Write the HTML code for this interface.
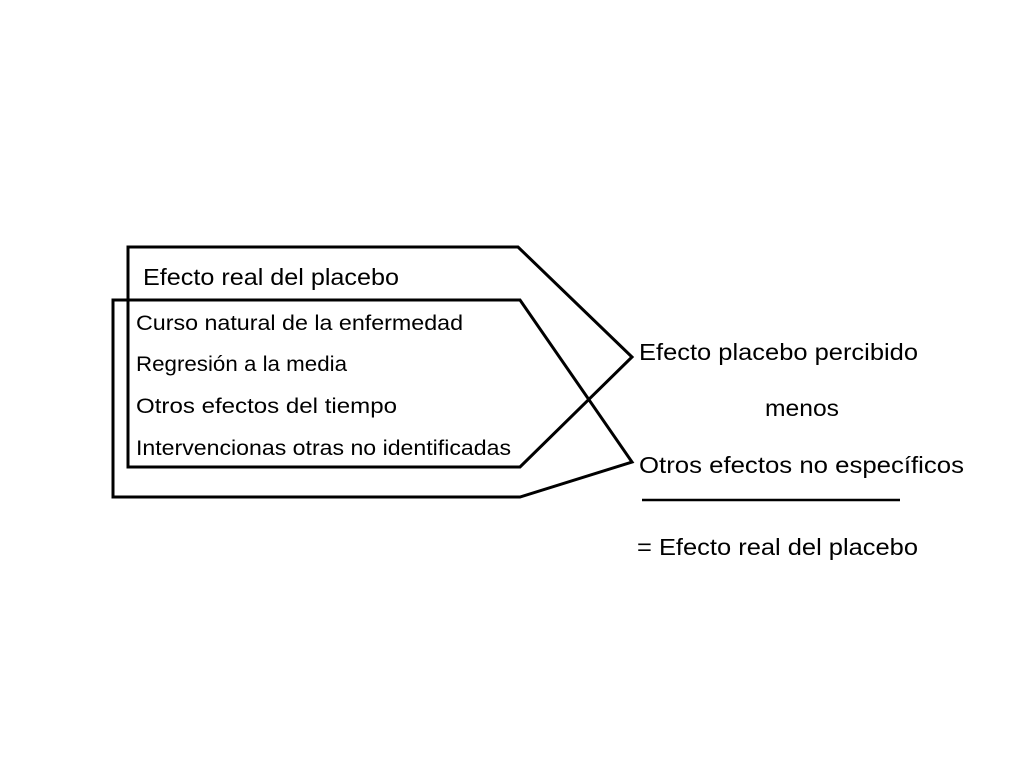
<!DOCTYPE html>
<html><head><meta charset="utf-8"><style>html,body{margin:0;padding:0;background:#fff}svg{display:block}</style></head>
<body>
<svg width="1024" height="768" viewBox="0 0 1024 768" xmlns="http://www.w3.org/2000/svg">
<g fill="none" stroke="#000" stroke-width="3" stroke-linejoin="miter">
<polygon points="128,247 518,247 632,357 520,467 128,467"/>
<polygon points="113,300 520,300 632,462 520,497 113,497"/>
<line x1="642" y1="500" x2="900" y2="500" stroke-width="2.5"/>
</g>
<g font-family="Liberation Sans, sans-serif" fill="#000" font-size="23">
<text x="143" y="285" textLength="256" lengthAdjust="spacingAndGlyphs">Efecto real del placebo</text>
<g font-size="21">
<text x="136" y="330" textLength="327" lengthAdjust="spacingAndGlyphs">Curso natural de la enfermedad</text>
<text x="136" y="371" textLength="211" lengthAdjust="spacingAndGlyphs">Regresión a la media</text>
<text x="136" y="413" textLength="261" lengthAdjust="spacingAndGlyphs">Otros efectos del tiempo</text>
<text x="136" y="455" textLength="375" lengthAdjust="spacingAndGlyphs">Intervencionas otras no identificadas</text>
</g>
<text x="639" y="360" textLength="279" lengthAdjust="spacingAndGlyphs">Efecto placebo percibido</text>
<text x="765" y="416" textLength="74" lengthAdjust="spacingAndGlyphs">menos</text>
<text x="639" y="473" textLength="325" lengthAdjust="spacingAndGlyphs">Otros efectos no específicos</text>
<text x="637" y="555" textLength="281" lengthAdjust="spacingAndGlyphs">= Efecto real del placebo</text>
</g>
</svg>
</body></html>
